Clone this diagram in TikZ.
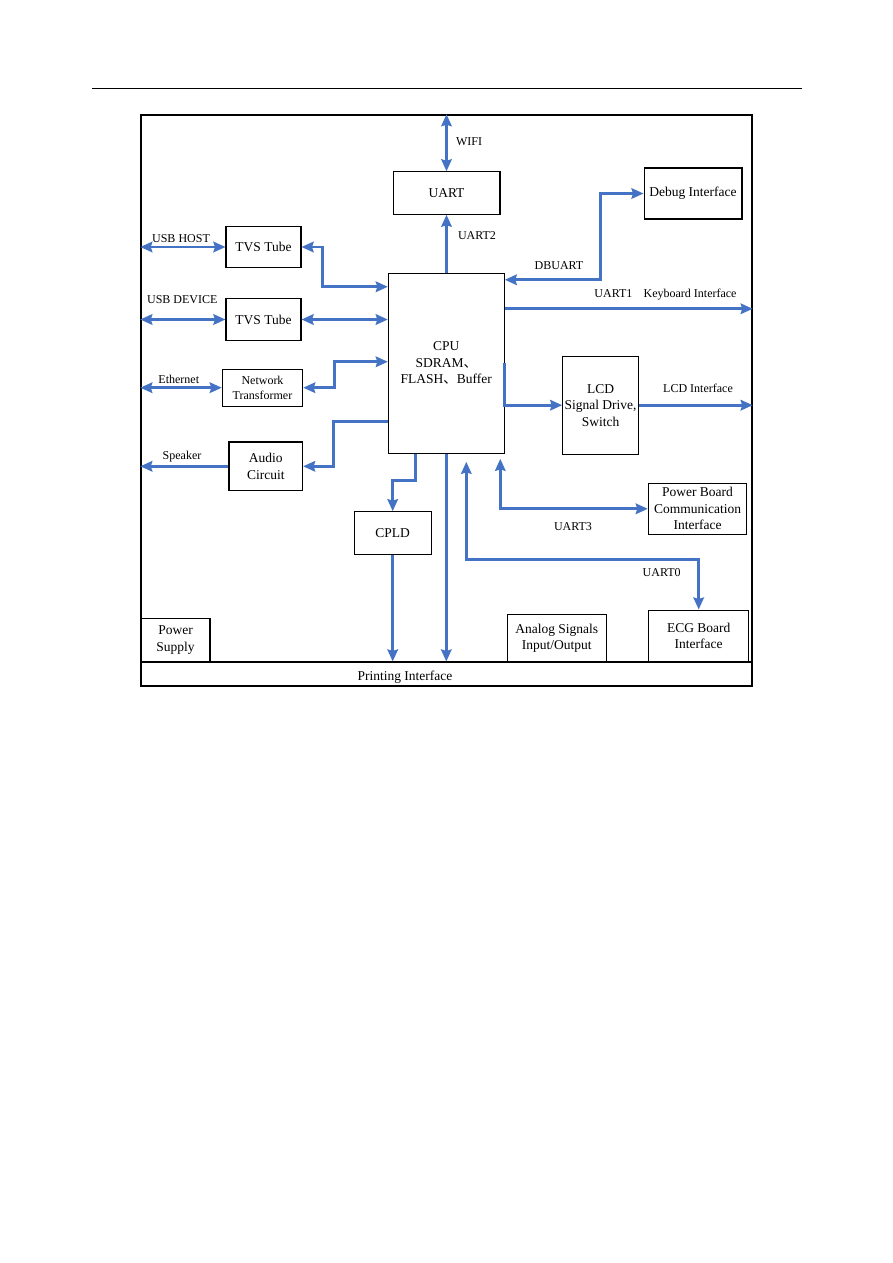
\documentclass[tikz,border=0pt]{standalone}
\usepackage{fontspec}
\setmainfont{Liberation Serif}
\newfontfamily\cjk{Noto Sans CJK SC}
\usepackage{tikz}
\usetikzlibrary{calc, arrows.meta, positioning}
\definecolor{linkblue}{RGB}{68,114,196}

\begin{document}
\begin{tikzpicture}[
  x=0.6667pt, y=-0.6667pt,
  >={Stealth[length=8pt, width=7pt, inset=1pt]},
  every node/.style={font=\fontsize{9}{11}\selectfont},
  blk/.style={draw, line width=0.7pt, align=center, inner sep=0pt},
  link/.style={draw=linkblue, line width=1.8pt},
  tag/.style={font=\fontsize{8}{10}\selectfont}
]
\useasboundingbox (0,0) rectangle (893,1263);
\draw[line width=0.6pt] (92,88) -- (802,88);
\node[draw, line width=1pt, minimum width=407.3pt, minimum height=380.7pt, inner sep=0pt] (board) at (446.5,400.5) {};
\node[draw, line width=0.7pt, minimum width=407.3pt, minimum height=16pt, inner sep=0pt] (print) at (446.5,674) {};
\node (lprint) at (405,676.7) {Printing Interface};
% blocks
\node[blk, minimum width=71.3pt, minimum height=28.3pt] (uart) at (446.5,193) {UART};
\node[blk, minimum width=65.3pt, minimum height=34pt] (dbg) at (693,193.5) {Debug Interface};
\node[blk, minimum width=77.3pt, minimum height=120pt] (cpu) at (446.3,363.3)
  {CPU\\SDRAM{\cjk 、}\\FLASH{\cjk 、}Buffer};
\node[blk, minimum width=50pt, minimum height=27.3pt] (tvsA) at (263.5,247) {TVS Tube};
\node[blk, minimum width=50pt, minimum height=28pt] (tvsB) at (263.5,319.5) {TVS Tube};
\node[blk, minimum width=53.6pt, minimum height=24.5pt, font=\fontsize{8}{10}\selectfont] (net) at (262.5,387.7)
  {Network\\Transformer};
\node[blk, minimum width=49.1pt, minimum height=32.4pt] (audio) at (265.8,466.3) {Audio\\Circuit};
\node[blk, minimum width=50.4pt, minimum height=65.5pt] (lcd) at (600.5,405.2) {LCD\\Signal Drive,\\Switch};
\node[blk, minimum width=65.6pt, minimum height=34pt] (pwr) at (697.5,508.8)
  {Power Board\\Communication\\Interface};
\node[blk, minimum width=51.1pt, minimum height=28.4pt] (cpld) at (392.7,533) {CPLD};
\node[blk, minimum width=46pt, minimum height=28.9pt] (psu) at (175.5,640) {Power\\Supply};
\node[blk, minimum width=65.8pt, minimum height=31.6pt] (ana) at (556.7,638) {Analog Signals\\Input/Output};
\node[blk, minimum width=66.7pt, minimum height=34.5pt] (ecg) at (698.7,635.9) {ECG Board\\Interface};
% labels
\node[tag] (lwifi) at (469,141.7) {WIFI};
\node[tag] (luart2) at (477,235.7) {UART2};
\node[tag] (lhost) at (181,238.3) {USB HOST};
\node[tag] (ldev) at (182.3,300) {USB DEVICE};
\node[tag] (leth) at (178.8,379.3) {Ethernet};
\node[tag] (lspk) at (182,456.7) {Speaker};
\node[tag] (ldb) at (559,265.7) {DBUART};
\node[tag] (lkey) at (665.5,295) {UART1\hspace{7.5pt}Keyboard Interface};
\node[tag] (llcd) at (698,388) {LCD Interface};
\node[tag] (luart3) at (573,527) {UART3};
\node[tag] (luart0) at (661.7,572.3) {UART0};
% links
\coordinate (kb) at ($(cpu.north east)+(0,36)$);
\draw[link, <->] (uart.north) -- (uart.north |- board.north);
\draw[link, ->] (uart.south |- cpu.north) -- (uart.south);
\draw[link, <->] ($(cpu.north east)+(0,7)$) -- ++(96,0) |- (dbg.west);
\draw[link, ->] (kb) -- (kb -| board.east);
\draw[link, ->] ($(cpu.north east)+(0,90)$) |- (lcd.west);
\draw[link, ->] (lcd.east) -- (lcd.east -| board.east);
\draw[link, <->] ($(cpu.south)+(54,5)$) |- (pwr.west);
\draw[link, <->] ($(cpu.south)+(20,8)$) |- ($(ecg.north)+(0,-50)$) -- (ecg.north);
\draw[link, ->] ($(cpu.south)+(-31,0)$) -- ++(0,27) -| (cpld.north);
\draw[link, ->] (cpld.south) -- (cpld.south |- print.north);
\draw[link, ->] (cpu.south) -- (cpu.south |- print.north);
\foreach \n in {tvsA, tvsB, net}
  \draw[link, <->] (board.west |- \n.west) -- (\n.west);
\draw[link, <->] (tvsA.east) -- ++(21,0) |- ($(cpu.north west)+(0,14)$);
\draw[link, <->] (tvsB.east) -- (tvsB.east -| cpu.west);
\draw[link, <->] (net.east) -- ++(31,0) |- ($(cpu.north west)+(0,89)$);
\draw[link, ->] ($(cpu.north west)+(0,149)$) -- ++(-54,0) |- (audio.east);
\draw[link, ->] (audio.west) -- (audio.west -| board.west);
\end{tikzpicture}
\end{document}
